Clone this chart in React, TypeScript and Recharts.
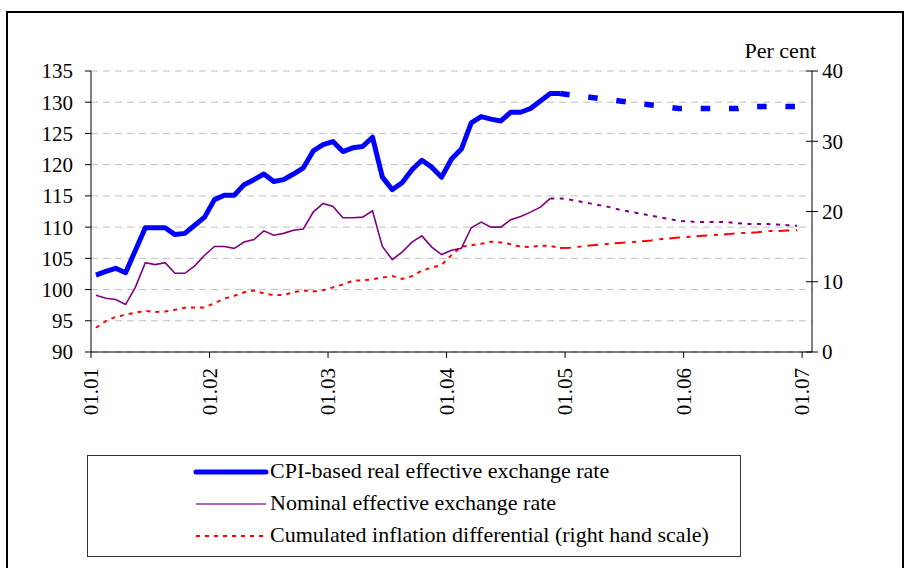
import React from 'react';
import { ComposedChart, Line, XAxis, YAxis, CartesianGrid } from 'recharts';

const FONT = '"Liberation Serif", "Times New Roman", serif';

// month slots: Jan 2001 .. Jan 2007 (73 slots, data through Dec 2006)
const SLOT_COUNT = 73;
const yearTicks = [0, 12, 24, 36, 48, 60, 72];
const yearLabels = ['01.01', '01.02', '01.03', '01.04', '01.05', '01.06', '01.07'];

// CPI-based real effective exchange rate, Jan 2001 - Dec 2004
const realHist = [
  102.3, 102.9, 103.4, 102.7, 106.3, 109.9, 109.9, 109.9, 108.8, 109.0, 110.3, 111.6,
  114.4, 115.1, 115.1, 116.8, 117.6, 118.5, 117.3, 117.6, 118.5, 119.5, 122.2, 123.2,
  123.7, 122.1, 122.7, 122.9, 124.4, 118.0, 116.0, 117.1, 119.2, 120.7, 119.6, 118.0,
  120.9, 122.5, 126.7, 127.7, 127.3, 127.0, 128.4, 128.4, 129.0, 130.2, 131.4, 131.4,
];
// projection, Dec 2004 - Dec 2006
const realFcst = [
  131.4, 131.2, 131.0, 130.8, 130.6, 130.4, 130.2, 130.0, 129.8, 129.6, 129.4, 129.2,
  129.0, 129.0, 129.0, 129.0, 129.0, 129.0, 129.0, 129.3, 129.3, 129.3, 129.3, 129.3, 129.3,
];
const realFcstStart = 47;

// Nominal effective exchange rate, Jan 2001 - Nov 2004
const nominalHist = [
  99.1, 98.6, 98.4, 97.6, 100.4, 104.3, 104.0, 104.3, 102.6, 102.6, 103.8, 105.5,
  106.9, 106.9, 106.6, 107.6, 108.0, 109.4, 108.7, 109.0, 109.5, 109.7, 112.4, 113.8,
  113.3, 111.5, 111.5, 111.6, 112.6, 106.9, 104.8, 106.0, 107.6, 108.6, 106.8, 105.6,
  106.3, 106.6, 109.9, 110.8, 110.0, 110.0, 111.2, 111.7, 112.4, 113.2, 114.6,
];
const nominalFcst = [
  114.6, 114.6, 114.4, 114.1, 113.8, 113.5, 113.2, 112.8, 112.5, 112.2, 111.9, 111.6,
  111.3, 111.0, 110.9, 110.8, 110.8, 110.8, 110.8, 110.6, 110.5, 110.5, 110.5, 110.4,
  110.3, 110.2,
];
const nominalFcstStart = 46;

// Cumulated inflation differential (per cent, right hand scale)
const inflHist = [
  3.45, 4.4, 5.0, 5.3, 5.6, 5.85, 5.7, 5.75, 6.0, 6.3, 6.35, 6.35,
  6.95, 7.6, 8.0, 8.5, 8.75, 8.35, 8.1, 8.1, 8.5, 8.75, 8.6, 8.8,
  9.2, 9.6, 10.15, 10.2, 10.35, 10.6, 10.8, 10.4, 10.8, 11.6, 12.0, 12.4,
  13.8, 15.0, 15.2, 15.4, 15.7, 15.6, 15.35, 15.0, 14.95, 15.15, 15.1, 14.8,
];
const inflFcst = [
  14.8, 14.85, 15.0, 15.15, 15.3, 15.4, 15.52, 15.64, 15.72, 15.82, 16.04, 16.15,
  16.3, 16.4, 16.5, 16.6, 16.68, 16.78, 16.93, 16.94, 17.05, 17.22, 17.22, 17.28, 17.32,
];
const inflFcstStart = 47;

const leftTicks = [90, 95, 100, 105, 110, 115, 120, 125, 130, 135];
const rightTicks = [0, 10, 20, 30, 40];

const data = Array.from({ length: 72 }, (_, i) => ({
  x: i + 0.5,
  real: realHist[i],
  realF: i >= realFcstStart ? realFcst[i - realFcstStart] : undefined,
  nominal: nominalHist[i],
  nominalF: i >= nominalFcstStart ? nominalFcst[i - nominalFcstStart] : undefined,
  infl: inflHist[i],
  inflF: i >= inflFcstStart ? inflFcst[i - inflFcstStart] : undefined,
}));

const XTick = (props: any) => {
  const { x, y, payload } = props;
  const label = yearLabels[yearTicks.indexOf(payload.value)];
  return (
    <text
      x={x}
      y={y}
      transform={`rotate(-90, ${x}, ${y})`}
      textAnchor="end"
      dominantBaseline="central"
      fontSize={21}
      fontFamily={FONT}
      fill="#000"
    >
      {label}
    </text>
  );
};

const RightTick = (props: any) => {
  const { x, y, payload } = props;
  return (
    <g>
      <line x1={x - 16} x2={x - 4} y1={y} y2={y} stroke="#000" strokeWidth={1} />
      <text x={x} y={y} dy="0.35em" textAnchor="start" fontSize={21} fontFamily={FONT} fill="#000">
        {payload.value}
      </text>
    </g>
  );
};

const LegendRow = ({ top, sample, label }: { top: number; sample: React.ReactNode; label: string }) => (
  <div style={{ position: 'absolute', left: 0, top, height: 30, width: 640 }}>
    <svg width={80} height={30} style={{ position: 'absolute', left: 104, top: 0 }}>
      {sample}
    </svg>
    <span
      style={{
        position: 'absolute',
        left: 182,
        top: 1,
        fontSize: 22,
        fontFamily: FONT,
        whiteSpace: 'nowrap',
        lineHeight: '26px',
      }}
    >
      {label}
    </span>
  </div>
);

export default function App() {
  return (
    <div style={{ position: 'absolute', left: 0, top: 0, width: 905, height: 568, background: '#fff', overflow: 'hidden' }}>
      <div
        style={{
          position: 'absolute',
          left: 6,
          top: 11,
          width: 898,
          height: 600,
          border: '2px solid #000',
          boxSizing: 'border-box',
        }}
      />
      <div
        style={{
          position: 'absolute',
          left: 680,
          top: 38,
          width: 136,
          textAlign: 'right',
          fontSize: 22,
          fontFamily: FONT,
          lineHeight: '26px',
        }}
      >
        Per cent
      </div>
      <div style={{ position: 'absolute', left: 0, top: 0 }}>
        <ComposedChart
          width={905}
          height={430}
          data={data}
          margin={{ top: 71, right: 33, bottom: 8, left: 31 }}
        >
          <CartesianGrid
            yAxisId="left"
            vertical={false}
            stroke="#bfbfbf"
            strokeDasharray="7 5"
          />
          <XAxis
            dataKey="x"
            type="number"
            domain={[0, SLOT_COUNT]}
            ticks={yearTicks}
            interval={0}
            height={70}
            axisLine={{ stroke: '#000' }}
            tickLine={{ stroke: '#000' }}
            tickSize={6}
            tickMargin={10}
            tick={<XTick />}
          />
          <YAxis
            yAxisId="left"
            orientation="left"
            domain={[90, 135]}
            ticks={leftTicks}
            interval={0}
            width={60}
            axisLine={{ stroke: '#000' }}
            tickLine={{ stroke: '#000' }}
            tickSize={6}
            tickMargin={12}
            tick={{ fill: '#000', fontSize: 21, fontFamily: FONT }}
          />
          <YAxis
            yAxisId="right"
            orientation="right"
            domain={[0, 40]}
            ticks={rightTicks}
            interval={0}
            width={60}
            axisLine={{ stroke: '#000' }}
            tickLine={false}
            tickSize={6}
            tickMargin={4}
            tick={<RightTick />}
          />
          <Line
            yAxisId="right"
            dataKey="infl"
            stroke="#ff0000"
            strokeWidth={2}
            strokeDasharray="4 5"
            dot={false}
            isAnimationActive={false}
          />
          <Line
            yAxisId="right"
            dataKey="inflF"
            stroke="#ff0000"
            strokeWidth={2}
            strokeDasharray="10.7 6.7 4 6"
            dot={false}
            isAnimationActive={false}
          />
          <Line
            yAxisId="left"
            dataKey="nominal"
            stroke="#800080"
            strokeWidth={1.6}
            dot={false}
            isAnimationActive={false}
          />
          <Line
            yAxisId="left"
            dataKey="nominalF"
            stroke="#800080"
            strokeWidth={2}
            strokeDasharray="4 5.5"
            dot={false}
            isAnimationActive={false}
          />
          <Line
            yAxisId="left"
            dataKey="real"
            stroke="#0000ff"
            strokeWidth={5}
            strokeLinejoin="round"
            dot={false}
            isAnimationActive={false}
          />
          <Line
            yAxisId="left"
            dataKey="realF"
            stroke="#0000ff"
            strokeWidth={5.5}
            strokeDasharray="9.5 18.8"
            dot={false}
            isAnimationActive={false}
          />
        </ComposedChart>
      </div>
      <div
        style={{
          position: 'absolute',
          left: 87,
          top: 455,
          width: 654,
          height: 102,
          border: '1px solid #333',
          boxSizing: 'border-box',
        }}
      >
        <LegendRow
          top={1}
          label="CPI-based real effective exchange rate"
          sample={<line x1={4} x2={74} y1={15} y2={15} stroke="#0000ff" strokeWidth={5} strokeLinecap="round" />}
        />
        <LegendRow
          top={33}
          label="Nominal effective exchange rate"
          sample={<line x1={4} x2={74} y1={15} y2={15} stroke="#993399" strokeWidth={1.6} />}
        />
        <LegendRow
          top={65}
          label="Cumulated inflation differential (right hand scale)"
          sample={<line x1={4} x2={74} y1={15} y2={15} stroke="#ff0000" strokeWidth={2} strokeDasharray="4 5" />}
        />
      </div>
    </div>
  );
}
